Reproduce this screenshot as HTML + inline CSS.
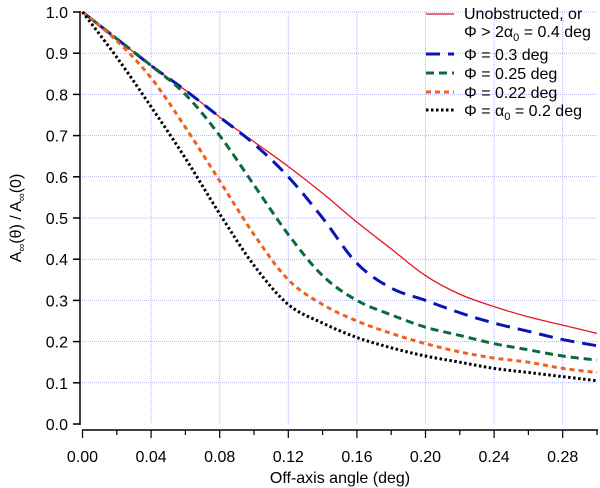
<!DOCTYPE html>
<html><head><meta charset="utf-8"><style>
body{margin:0;background:#fff}
svg{display:block;font-family:"Liberation Sans",sans-serif}
</style></head><body>
<svg id="chart" width="600" height="488"></svg>
<script>
const xVals=[0,0.02,0.04,0.06,0.08,0.10,0.12,0.14,0.16,0.18,0.20,0.22,0.24,0.26,0.28,0.30];
const redVals=[1,0.935,0.87,0.81,0.745,0.685,0.625,0.56,0.49,0.425,0.36,0.315,0.285,0.26,0.24,0.22];
const blueVals=[1,0.935,0.87,0.81,0.745,0.68,0.60,0.50,0.39,0.33,0.30,0.27,0.245,0.225,0.205,0.19];
const greenVals=[1,0.935,0.87,0.80,0.70,0.58,0.46,0.36,0.30,0.265,0.235,0.215,0.195,0.18,0.165,0.155];
const orangeVals=[1,0.93,0.84,0.72,0.59,0.46,0.35,0.29,0.25,0.22,0.195,0.175,0.16,0.15,0.135,0.125];
const blackVals=[1,0.89,0.77,0.645,0.51,0.385,0.29,0.245,0.21,0.185,0.165,0.15,0.135,0.125,0.115,0.105];
const xTicks=["0.00","0.04","0.08","0.12","0.16","0.20","0.24","0.28"];
const yTicks=["0.0","0.1","0.2","0.3","0.4","0.5","0.6","0.7","0.8","0.9","1.0"];
const legendLabels=["Φ = 0.3 deg","Φ = 0.25 deg","Φ = 0.22 deg"];

const NS="http://www.w3.org/2000/svg";
const svg=document.getElementById('chart');
const X=v=>82.5+v/0.04*68.6;
const Y=v=>424-v*412;
function mk(t,a,p){const e=document.createElementNS(NS,t);for(const k in a)e.setAttribute(k,a[k]);(p||svg).appendChild(e);return e;}

for(let i=2;i<=14;i+=2){const x=X(i*0.02);const g=mk('line',{x1:x,x2:x,y1:Y(1),y2:Y(0),stroke:'#b4b4ee','stroke-width':1,'stroke-dasharray':'1,1'});

}
yTicks.forEach((t,i)=>{const y=Y(+t);if(i>0){const g=mk('line',{x1:82,x2:598,y1:y,y2:y,stroke:'#b4b4ee','stroke-width':1,'stroke-dasharray':'1,1'});

}
const tk=mk('line',{x1:73,x2:80,y1:y,y2:y,stroke:'#000','stroke-width':1.5});


const tx=mk('text',{x:68,y:y+6,'text-anchor':'end','font-size':16});tx.textContent=t;

});
const ya=mk('line',{x1:80,x2:80,y1:Y(1)-1,y2:Y(0)+1,stroke:'#000','stroke-width':1.5});


const xa=mk('line',{x1:82,x2:598,y1:430,y2:430,stroke:'#000','stroke-width':1.5});


for(let i=0;i<=15;i++){const x=X(i*0.02);const tk=mk('line',{x1:x,x2:x,y1:430,y2:i%2?435:438,stroke:'#000','stroke-width':1.2});

}
xTicks.forEach(t=>{const tx=mk('text',{x:X(+t),y:462,'text-anchor':'middle','font-size':16});tx.textContent=t;

});
const xt=mk('text',{x:340,y:483,'text-anchor':'middle','font-size':16});xt.textContent='Off-axis angle (deg)';


const yt=mk('text',{transform:'translate(21,218) rotate(-90)','text-anchor':'middle','font-size':16});
yt.innerHTML='A<tspan font-size="11" dy="4">∞</tspan><tspan dy="-4">(θ) / A</tspan><tspan font-size="11" dy="4">∞</tspan><tspan dy="-4">(0)</tspan>';



function smooth(v){const P=v.map((y,i)=>[X(xVals[i]),Y(y)]);let d='M'+P[0][0]+','+P[0][1];
for(let i=0;i<P.length-1;i++){const p0=P[Math.max(i-1,0)],p1=P[i],p2=P[i+1],p3=P[Math.min(i+2,P.length-1)];
const c1=[p1[0]+(p2[0]-p0[0])/6,p1[1]+(p2[1]-p0[1])/6],c2=[p2[0]-(p3[0]-p1[0])/6,p2[1]-(p3[1]-p1[1])/6];
d+='C'+c1+' '+c2+' '+p2;}return d;}
const series=[
 {v:redVals,c:'#e8151b',w:1.3,d:'',n:'series-unobstructed'},
 {v:blueVals,c:'#0a14b4',w:3,d:'14,8',n:'series-phi-0-3'},
 {v:greenVals,c:'#0c6a3a',w:3,d:'8,5',n:'series-phi-0-25'},
 {v:orangeVals,c:'#f06020',w:3,d:'5,4',n:'series-phi-0-22'},
 {v:blackVals,c:'#000',w:3,d:'2.5,2.5',n:'series-phi-0-2'}];
series.forEach(s=>{const e=mk('path',{d:smooth(s.v),fill:'none',stroke:s.c,'stroke-width':s.w,'stroke-dasharray':s.d});

});

const ly=[14,54,73,92,110];
series.forEach((s,i)=>{const l=mk('line',{x1:426,x2:454,y1:ly[i],y2:ly[i],stroke:s.c,'stroke-width':s.w,'stroke-dasharray':s.d});

});
function lt(y,html){const t=mk('text',{x:464,y:y,'font-size':16});t.innerHTML=html;

}
lt(19,'Unobstructed, or');
lt(37,'Φ &gt; 2α<tspan font-size="11" dy="4">0</tspan><tspan dy="-4"> = 0.4 deg</tspan>');
legendLabels.forEach((s,i)=>lt(ly[i+1]+6,s));
lt(116,'Φ = α<tspan font-size="11" dy="4">0</tspan><tspan dy="-4"> = 0.2 deg</tspan>');
</script>
</body></html>
